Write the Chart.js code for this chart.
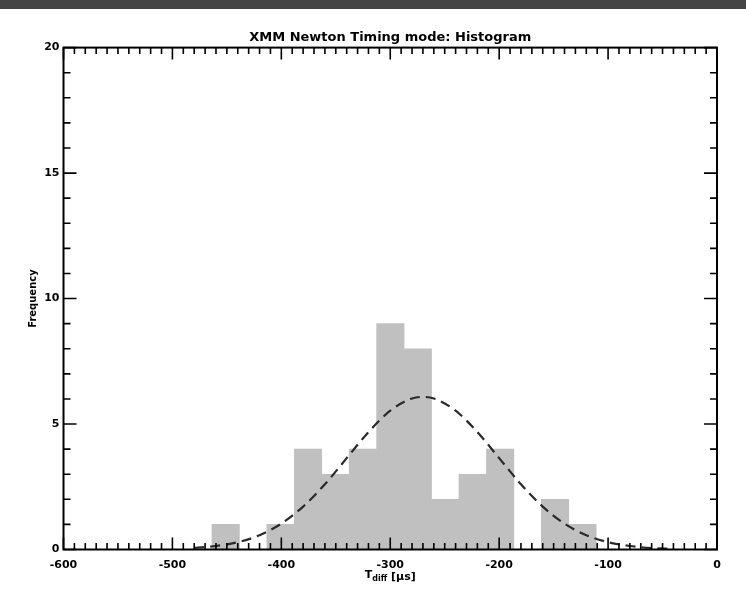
<!DOCTYPE html>
<html>
<head>
<meta charset="utf-8">
<title>XMM Newton Timing mode: Histogram</title>
<script src="https://cdn.jsdelivr.net/npm/chart.js@4.4.1/dist/chart.umd.min.js"></script>
<style>
  body { margin: 0; background: #fff; }
  #band { height: 9px; background: #454545; }
  canvas { display: block; }
</style>
</head>
<body>
<div id="band"></div>
<canvas id="histo" width="746" height="584"></canvas>
<script>
// Histogram bins: centre of each bin (µs) and counts
const binCentres = [-451.1, -425.9, -400.7, -375.5, -350.3, -325.1, -299.9, -274.7, -249.5, -224.3, -199.1, -173.9, -148.7, -123.5];
const binCounts  = [1, 0, 1, 4, 3, 4, 9, 8, 2, 3, 4, 0, 2, 1];

// Gaussian fit
const fitX = [-480, -460, -440, -420, -400, -380, -360, -340, -320, -300, -280, -270, -260, -240, -220, -200, -180, -160, -140, -120, -100, -80, -60, -40];
const fitY = [0.06, 0.14, 0.29, 0.57, 1.03, 1.71, 2.60, 3.64, 4.68, 5.53, 6.02, 6.08, 6.02, 5.53, 4.68, 3.64, 2.60, 1.71, 1.03, 0.57, 0.29, 0.14, 0.06, 0.03];

// Labelled ticks
const xMajorTicks = [-600, -500, -400, -300, -200, -100, 0];
const yMajorTicks = [0, 5, 10, 15, 20];

Chart.defaults.font.family = '"DejaVu Sans", sans-serif';
Chart.defaults.font.weight = 'bold';
Chart.defaults.color = '#000';

// Ticks pointing inside the frame on all four sides, plus the frame itself
const frameTicks = {
    id: 'frameTicks',
    afterDraw(chart) {
        const { ctx, chartArea: a, scales: { x, y } } = chart;
        ctx.save();
        ctx.strokeStyle = '#000';
        ctx.lineWidth = 1.6;
        ctx.beginPath();
        for (let i = 0; i <= 60; i++) {
            const px = x.getPixelForValue(x.min + i * 10);
            const len = i % 10 === 0 ? 12 : 6.5;
            ctx.moveTo(px, a.bottom); ctx.lineTo(px, a.bottom - len);
            ctx.moveTo(px, a.top); ctx.lineTo(px, a.top + len);
        }
        for (let i = 0; i <= 20; i++) {
            const py = y.getPixelForValue(i);
            const len = i % 5 === 0 ? 13 : 7;
            ctx.moveTo(a.left, py); ctx.lineTo(a.left + len, py);
            ctx.moveTo(a.right, py); ctx.lineTo(a.right - len, py);
        }
        ctx.stroke();
        ctx.lineWidth = 2;
        ctx.strokeRect(a.left, a.top, a.right - a.left, a.bottom - a.top);

        // x axis title: T with subscript "diff"
        const cx = (a.left + a.right) / 2;
        const base = 571;
        ctx.fillStyle = '#000';
        ctx.textBaseline = 'alphabetic';
        const big = 'bold 11px "DejaVu Sans"';
        const small = 'bold 8px "DejaVu Sans"';
        ctx.font = big; const wT = ctx.measureText('T').width;
        ctx.font = small; const wSub = ctx.measureText('diff').width;
        ctx.font = big; const wRest = ctx.measureText(' [µs]').width;
        let sx = cx - (wT + wSub + wRest) / 2;
        ctx.font = big; ctx.fillText('T', sx, base - 2); sx += wT;
        ctx.font = small; ctx.fillText('diff', sx, base + 1); sx += wSub;
        ctx.font = big; ctx.fillText(' [µs]', sx, base);
        ctx.restore();
    }
};

new Chart(document.getElementById('histo'), {
    type: 'bar',
    data: {
        datasets: [
            {
                type: 'line',
                label: 'Gaussian fit',
                data: fitX.map((v, i) => ({ x: v, y: fitY[i] })),
                borderColor: '#2a2a2a',
                borderWidth: 2.2,
                borderDash: [10, 6],
                pointRadius: 0,
                fill: false,
                cubicInterpolationMode: 'monotone',
                order: 0
            },
            {
                label: 'Frequency',
                data: binCentres.map((v, i) => ({ x: v, y: binCounts[i] })),
                backgroundColor: '#c0c0c0',
                borderWidth: 0,
                barPercentage: 1.0,
                categoryPercentage: 1.0,
                order: 1
            }
        ]
    },
    options: {
        responsive: false,
        animation: false,
        devicePixelRatio: 1,
        layout: { padding: { left: 0, right: 29, top: 0, bottom: 0 } },
        plugins: {
            legend: { display: false },
            tooltip: { enabled: false },
            title: {
                display: true,
                fullSize: false,
                text: 'XMM Newton Timing mode: Histogram',
                font: { size: 13, weight: 'bold' },
                color: '#000',
                padding: { top: 21, bottom: 2 }
            }
        },
        scales: {
            x: {
                type: 'linear',
                offset: false,
                min: -600,
                max: 0,
                afterBuildTicks: s => { s.ticks = xMajorTicks.map(v => ({ value: v })); },
                afterFit: s => { s.height = 43.5; },
                grid: { display: false, drawTicks: false, offset: false },
                border: { display: false },
                ticks: { padding: 9, font: { size: 11, weight: 'bold' }, maxRotation: 0 }
            },
            y: {
                min: 0,
                max: 20,
                afterBuildTicks: s => { s.ticks = yMajorTicks.map(v => ({ value: v })); },
                afterFit: s => { s.width = 63.5; },
                grid: { display: false, drawTicks: false },
                border: { display: false },
                ticks: { padding: 4, font: { size: 11, weight: 'bold' } },
                title: {
                    display: true,
                    text: 'Frequency',
                    font: { size: 10, weight: 'bold' },
                    padding: { top: 27, bottom: 0 }
                }
            }
        }
    },
    plugins: [frameTicks]
});
</script>
</body>
</html>
